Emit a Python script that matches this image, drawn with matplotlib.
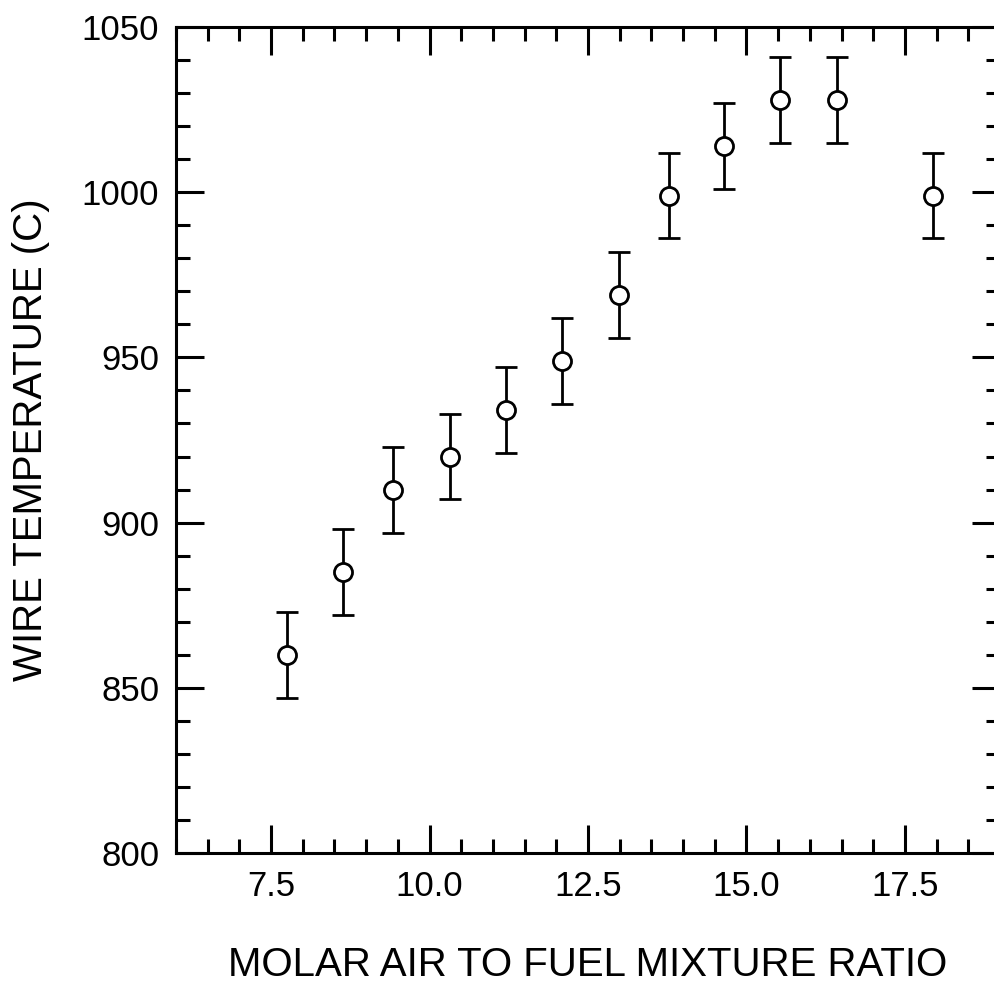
import numpy as np
import matplotlib
matplotlib.use("Agg")
import matplotlib.pyplot as plt
from matplotlib.ticker import MultipleLocator

# data
ratio = np.array([7.75, 8.63, 9.43, 10.33, 11.21, 12.09, 12.99, 13.78, 14.65, 15.53, 16.43, 17.94])
temp = np.array([860, 885, 910, 920, 934, 949, 969, 999, 1014, 1028, 1028, 999])
err = np.array([13, 13, 13, 13, 13, 13, 13, 13, 13, 13, 13, 13])

plt.rcParams['font.family'] = ['Liberation Sans', 'DejaVu Sans']

fig = plt.figure(figsize=(9.95, 9.84), dpi=100)
ax = fig.add_axes([176/995, 1 - 853/984, (1000-176)/995, (853-27)/984])

ax.errorbar(ratio, temp, yerr=err, fmt='o', color='black', mfc='white', mec='black',
            ms=13, mew=2, elinewidth=2, capsize=8, capthick=2)

ax.set_xlim(6, 19)
ax.set_ylim(800, 1050)
ax.xaxis.set_major_locator(MultipleLocator(2.5))
ax.xaxis.set_minor_locator(MultipleLocator(0.5))
ax.yaxis.set_major_locator(MultipleLocator(50))
ax.yaxis.set_minor_locator(MultipleLocator(10))
ax.xaxis.set_major_formatter(matplotlib.ticker.FormatStrFormatter('%.1f'))

ax.tick_params(which='both', direction='in', top=True, right=True, width=2.2, labelsize=25)
ax.tick_params(which='major', length=20, pad=12)
ax.tick_params(which='minor', length=10)
for s in ax.spines.values():
    s.set_linewidth(2.2)

ax.set_xlabel("MOLAR AIR TO FUEL MIXTURE RATIO", fontsize=29, labelpad=31)
ax.set_ylabel("WIRE TEMPERATURE (C)", fontsize=29, labelpad=23)

fig.savefig("out.png", dpi=100)
